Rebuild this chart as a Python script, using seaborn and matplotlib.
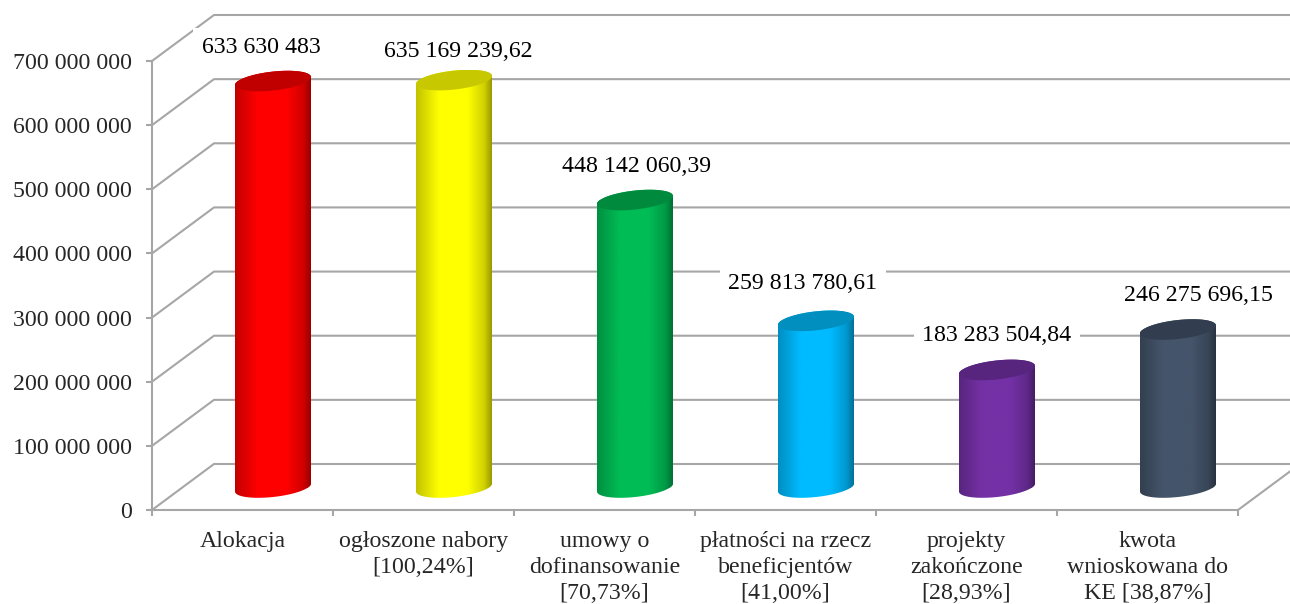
import numpy as np
import pandas as pd
import matplotlib
matplotlib.use('Agg')
import matplotlib.pyplot as plt
from matplotlib.colors import to_rgb
from matplotlib.patches import Polygon
import seaborn as sns

# --- Data ---
categories = ['Alokacja', 'ogłoszone nabory\n[100,24%]', 'umowy o\ndofinansowanie\n[70,73%]',
              'płatności na rzecz\nbeneficjentów\n[41,00%]', 'projekty\nzakończone\n[28,93%]',
              'kwota\nwnioskowana do\nKE [38,87%]']
values = [633630483, 635169239.62, 448142060.39, 259813780.61, 183283504.84, 246275696.15]
value_labels = ['633 630 483', '635 169 239,62', '448 142 060,39',
                '259 813 780,61', '183 283 504,84', '246 275 696,15']
y_ticks = [0, 100e6, 200e6, 300e6, 400e6, 500e6, 600e6, 700e6]
y_tick_labels = ['0', '100 000 000', '200 000 000', '300 000 000',
                 '400 000 000', '500 000 000', '600 000 000', '700 000 000']
bar_colors = ['#FF0000', '#FFFF00', '#00BC55', '#00BBFF', '#7431A6', '#44546A']
top_colors = ['#C00000', '#C8C800', '#008A3E', '#008FBF', '#57257D', '#323E50']

# --- Chart configuration (pixels) ---
W, H = 1290, 604
LEFT, RIGHT, BASE, TOP = 152, 1238, 510, 61
BACK_DX, BACK_DY = 62, 46
MID_DX, MID_DY = 30.5, 22.5
GRID = '#A6A6A6'
FONT_SIZE = 17.2
# label offset from the top of its bar
label_dx = [-12, 4, 2, -13, 0, 20]
label_dy = [34, 29, 34, 37, 34, 34]

sns.set_theme(style='white')
plt.rcParams['font.family'] = ['Liberation Serif', 'DejaVu Serif']
plt.rcParams['text.color'] = 'black'

fig = plt.figure(figsize=(W / 100, H / 100), dpi=100)
rect = [LEFT / W, (H - BASE) / H, (RIGHT - LEFT) / W, (BASE - TOP) / H]
ax = fig.add_axes(rect)
ax_mid = fig.add_axes([(LEFT + MID_DX) / W, (H - BASE + MID_DY) / H, rect[2], rect[3]])
ax_mid.patch.set_alpha(0)

x_per_px = 6 / (RIGHT - LEFT)
y_per_px = 700e6 / (BASE - TOP)

# walls and gridlines of the 3D box
ax.set_xlim(-0.5, 5.5)
ax.set_ylim(0, 700e6)
for v in y_ticks:
    ax.plot([-0.5, -0.5 + BACK_DX * x_per_px, 5.5 + BACK_DX * x_per_px],
            [v, v + BACK_DY * y_per_px, v + BACK_DY * y_per_px],
            color=GRID, lw=1.5, clip_on=False, zorder=1, solid_capstyle='butt')
ax.plot([5.5, 5.5 + BACK_DX * x_per_px], [0, BACK_DY * y_per_px],
        color=GRID, lw=1.5, clip_on=False, zorder=1)

sns.despine(ax=ax)
for side in ['left', 'bottom']:
    ax.spines[side].set_color(GRID)
    ax.spines[side].set_linewidth(1.5)
ax.set_yticks(y_ticks)
ax.set_yticklabels(y_tick_labels, fontsize=FONT_SIZE)
ax.set_xticks(np.arange(-0.5, 6))
ax.set_xticklabels([])
ax.set_xticks(np.arange(6), minor=True)
ax.set_xticklabels(categories, minor=True, fontsize=FONT_SIZE, linespacing=1.32)
ax.tick_params(axis='y', length=4, width=1.5, color=GRID, pad=10.5, left=True)
ax.tick_params(axis='x', which='major', length=4, width=1.5, color=GRID, bottom=True)
ax.tick_params(axis='x', which='minor', length=0, pad=15)

# bars
df = pd.DataFrame({'category': categories, 'value': values})
sns.barplot(data=df, x='category', y='value', hue='category', palette=bar_colors,
            width=76 / 181, dodge=False, legend=False, saturation=1, ax=ax_mid)
ax_mid.set_xlim(-0.5, 5.5)
ax_mid.set_ylim(0, 700e6)
ax_mid.axis('off')

t_up = np.linspace(0, np.pi, 60)
t_down = np.linspace(np.pi, 2 * np.pi, 60)
t_all = np.linspace(0, 2 * np.pi, 120)
ELL_B, ELL_TILT = 9.5 * y_per_px, 4.0 * y_per_px


def ellipse_points(cx, half, yc, t):
    return np.column_stack([cx + half * np.cos(t), yc + ELL_B * np.sin(t) + ELL_TILT * np.cos(t)])


for i, bar in enumerate(ax_mid.patches[:len(values)]):
    x0 = bar.get_x()
    half = bar.get_width() / 2
    cx = x0 + half
    val = bar.get_height()

    outline = np.vstack([ellipse_points(cx, half, val, t_up), ellipse_points(cx, half, 0, t_down)])
    clip = Polygon(outline, closed=True, transform=ax_mid.transData)
    bar.set_clip_path(clip)
    bar.set_linewidth(0)

    # cylinder shading across the width of the bar
    shade = np.interp(np.linspace(0, 1, 200), [0, 0.3, 0.68, 0.9, 1], [0.76, 1, 1, 0.82, 0.6])
    grad = np.array(to_rgb(bar_colors[i]))[None, None, :] * shade[None, :, None]
    im = ax_mid.imshow(grad, extent=[x0, x0 + 2 * half, -2 * ELL_B, val + 2 * ELL_B],
                       aspect='auto', interpolation='bilinear', zorder=3)
    im.set_clip_box(fig.bbox)
    im.set_clip_path(clip)

    ax_mid.add_patch(Polygon(ellipse_points(cx, half, val, t_all), closed=True,
                             facecolor=top_colors[i], edgecolor='none', zorder=4))

    ax_mid.annotate(value_labels[i], xy=(cx, val),
                    xytext=(label_dx[i] * 0.72, label_dy[i] * 0.72), textcoords='offset points',
                    ha='center', va='center', fontsize=FONT_SIZE, annotation_clip=False, zorder=5,
                    bbox=dict(facecolor='white', edgecolor='none', pad=6))

ax_mid.set_xlim(-0.5, 5.5)
ax_mid.set_ylim(0, 700e6)

fig.savefig('out.png', dpi=100, facecolor='white')
